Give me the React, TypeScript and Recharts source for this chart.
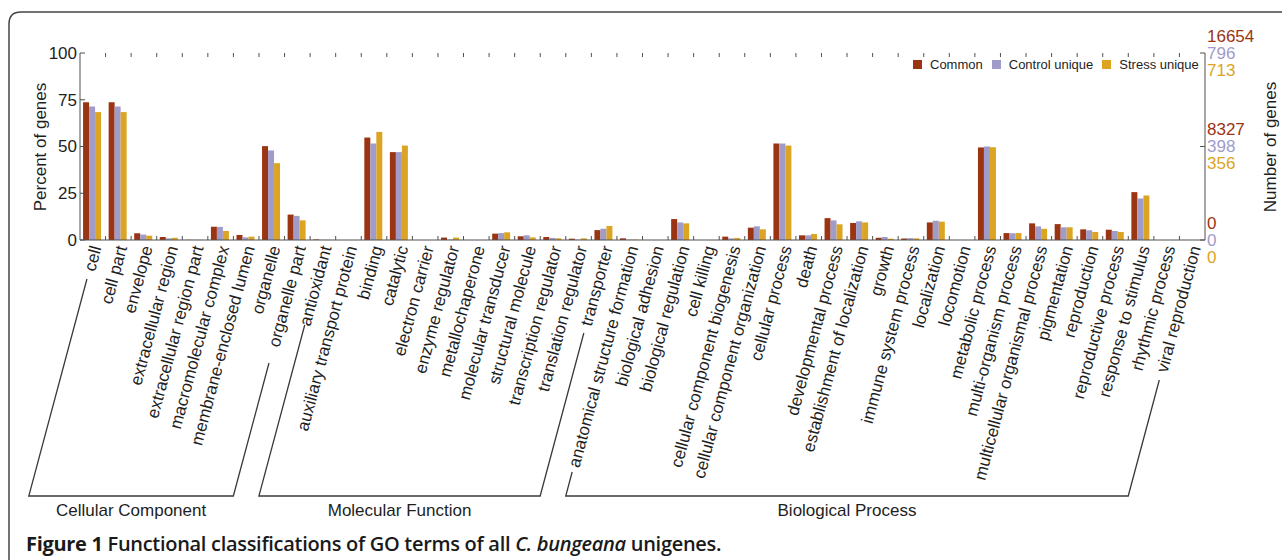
import React from "react";
import { BarChart, Bar, XAxis, YAxis, Legend } from "recharts";

// GO term categories, in plotting order
const categories = [
  "cell", "cell part", "envelope", "extracellular region", "extracellular region part",
  "macromolecular complex", "membrane-enclosed lumen", "organelle", "organelle part",
  "antioxidant", "auxiliary transport protein", "binding", "catalytic", "electron carrier",
  "enzyme regulator", "metallochaperone", "molecular transducer", "structural molecule",
  "transcription regulator", "translation regulator", "transporter",
  "anatomical structure formation", "biological adhesion", "biological regulation",
  "cell killing", "cellular component biogenesis", "cellular component organization",
  "cellular process", "death", "developmental process", "establishment of localization",
  "growth", "immune system process", "localization", "locomotion", "metabolic process",
  "multi-organism process", "multicellular organismal process", "pigmentation",
  "reproduction", "reproductive process", "response to stimulus", "rhythmic process",
  "viral reproduction",
];

// percent of genes per set
const commonPct = [
  73.7, 73.7, 3.6, 1.6, 0.1, 7.1, 2.7, 50.2, 13.6,
  0.3, 0, 54.8, 47.0, 0, 1.3, 0, 3.4, 2.0, 1.6, 0.7, 5.3,
  0.9, 0, 11.2, 0, 1.8, 6.6, 51.6, 2.5, 11.7, 9.1, 1.2, 0.8, 9.4, 0, 49.5,
  3.7, 8.9, 8.5, 5.7, 5.5, 25.6, 0, 0,
];
const controlPct = [
  71.4, 71.4, 2.9, 0.9, 0.1, 7.0, 1.4, 47.9, 12.9,
  0.1, 0, 51.6, 47.0, 0, 0.2, 0, 3.7, 2.5, 1.1, 0.2, 6.0,
  0.2, 0, 9.4, 0, 0.9, 7.3, 51.6, 2.5, 10.5, 10.0, 1.6, 1.0, 10.3, 0, 50.0,
  3.6, 7.3, 6.8, 5.2, 4.8, 22.2, 0, 0,
];
const stressPct = [
  68.4, 68.4, 2.3, 1.2, 0.1, 4.8, 1.8, 41.1, 10.5,
  0.1, 0, 57.8, 50.5, 0, 1.3, 0, 4.1, 1.4, 0.9, 0.9, 7.5,
  0.2, 0, 8.9, 0, 1.1, 5.7, 50.5, 3.2, 8.4, 9.4, 0.7, 0.9, 9.8, 0, 49.6,
  3.7, 6.0, 6.8, 4.3, 4.3, 23.8, 0, 0,
];

const percentTicks = [0, 25, 50, 75, 100];
const countTicks = [0, 50, 100];
const commonCounts = ["0", "8327", "16654"];
const controlCounts = ["0", "398", "796"];
const stressCounts = ["0", "356", "713"];

const groupNames = ["Cellular Component", "Molecular Function", "Biological Process"];
const groupSizes = [9, 12, 23];

const COLORS = { common: "#9b3412", control: "#a09cca", stress: "#dca423" };
const FONT = "'Liberation Sans', Arial, Helvetica, sans-serif";
const INK = "#1e1e1e";
const AXIS = "#505050";

const W = 1282;
const H = 560;
const LEFT = 80;
const RIGHT_W = 77;
const TOP = 53;
const AXIS_H = 320;
const PLOT_BOTTOM = H - AXIS_H;
const PLOT_W = W - LEFT - RIGHT_W;
const STEP = PLOT_W / categories.length;
const ANGLE = 75;
const LABEL_DX = 3;
const LABEL_Y = PLOT_BOTTOM + 6;
const BRACKET_Y = 496;
// where each bracket side stops under its label: [first, last]
const bracketTops = [[279, 363], [325, 333], [472, 380]];

const data = categories.map((name, i) => ({
  name,
  common: commonPct[i],
  control: controlPct[i],
  stress: stressPct[i],
}));

const cot = 1 / Math.tan((ANGLE * Math.PI) / 180);
const centerX = (i: number) => LEFT + STEP * (i + 0.5);
const labelLineX = (i: number, y: number) => centerX(i) + LABEL_DX - (y - LABEL_Y) * cot;

function CategoryTick({ x, payload, index }: any) {
  const edge = x - STEP / 2;
  return (
    <g>
      {index > 0 && (
        <>
          <line x1={edge} x2={edge} y1={PLOT_BOTTOM} y2={PLOT_BOTTOM - 4} stroke={AXIS} />
          <line x1={edge} x2={edge} y1={TOP} y2={TOP + 4} stroke={AXIS} />
        </>
      )}
      <text
        transform={`translate(${x + LABEL_DX},${LABEL_Y}) rotate(-${ANGLE})`}
        textAnchor="end"
        dy="0.35em"
        fontSize={17}
        fontFamily={FONT}
        fill={INK}
      >
        {payload.value}
      </text>
    </g>
  );
}

function PercentTick({ y, payload }: any) {
  return (
    <g>
      <line x1={LEFT} x2={LEFT + 5} y1={y} y2={y} stroke={AXIS} />
      <text x={LEFT - 3} y={y} dy="0.35em" textAnchor="end" fontSize={17} fontFamily={FONT} fill={INK}>
        {payload.value}
      </text>
    </g>
  );
}

function CountTick({ y, payload }: any) {
  const k = countTicks.indexOf(payload.value);
  const xr = W - RIGHT_W;
  const rows: [string, string][] = [
    [commonCounts[k], COLORS.common],
    [controlCounts[k], COLORS.control],
    [stressCounts[k], COLORS.stress],
  ];
  return (
    <g>
      <line x1={xr} x2={xr - 5} y1={y} y2={y} stroke={AXIS} />
      {rows.map(([label, color], r) => (
        <text
          key={r}
          x={xr + 2}
          y={y + (r - 1) * 17}
          dy="0.35em"
          fontSize={17}
          fontFamily={FONT}
          fill={color}
        >
          {label}
        </text>
      ))}
    </g>
  );
}

function LegendContent({ payload }: any) {
  return (
    <div style={{ display: "flex", alignItems: "center", fontFamily: FONT, fontSize: 13, color: INK, lineHeight: "15px" }}>
      {(payload || []).map((p: any) => (
        <span key={p.value} style={{ display: "flex", alignItems: "center", marginRight: 9 }}>
          <span style={{ width: 9, height: 9, background: p.color, marginRight: 8 }} />
          {p.value}
        </span>
      ))}
    </div>
  );
}

function Brackets() {
  let start = 0;
  return (
    <g>
      {groupNames.map((name, g) => {
        const first = start;
        const last = start + groupSizes[g] - 1;
        start += groupSizes[g];
        const [topA, topB] = bracketTops[g];
        const x0 = labelLineX(first, BRACKET_Y);
        const x1 = labelLineX(last, BRACKET_Y);
        const d = `M${labelLineX(first, topA)},${topA} L${x0},${BRACKET_Y} L${x1},${BRACKET_Y} L${labelLineX(last, topB)},${topB}`;
        return (
          <g key={name}>
            <path d={d} fill="none" stroke="#3a3a3a" strokeWidth={1.3} />
            <text x={(x0 + x1) / 2} y={BRACKET_Y + 14} dy="0.35em" textAnchor="middle" fontSize={17} fontFamily={FONT} fill={INK}>
              {name}
            </text>
          </g>
        );
      })}
    </g>
  );
}

export default function App() {
  return (
    <div style={{ position: "absolute", left: 0, top: 0, width: W, height: H, background: "#fff" }}>
      <BarChart
        width={W}
        height={H}
        data={data}
        margin={{ top: TOP, right: 0, bottom: 0, left: 0 }}
        barCategoryGap="12%"
        barGap={0}
      >
        <XAxis
          dataKey="name"
          height={AXIS_H}
          interval={0}
          tickLine={false}
          axisLine={{ stroke: AXIS }}
          tick={<CategoryTick />}
        />
        <XAxis xAxisId="top" dataKey="name" orientation="top" height={0} tick={false} tickLine={false} axisLine={{ stroke: AXIS }} />
        <YAxis
          yAxisId="left"
          width={LEFT}
          type="number"
          domain={[0, 100]}
          ticks={percentTicks}
          allowDataOverflow
          tickLine={false}
          axisLine={{ stroke: AXIS }}
          tick={<PercentTick />}
        />
        {/* same 0-100 scale, labelled with gene counts per set */}
        <YAxis
          yAxisId="right"
          orientation="right"
          width={RIGHT_W}
          type="number"
          domain={[0, 100]}
          ticks={countTicks}
          allowDataOverflow
          tickLine={false}
          axisLine={{ stroke: AXIS }}
          tick={<CountTick />}
        />
        <Legend
          layout="horizontal"
          verticalAlign="middle"
          align="center"
          content={<LegendContent />}
          wrapperStyle={{ top: 57, left: 913, width: 320, height: 15 }}
        />
        <Bar yAxisId="left" dataKey="common" name="Common" fill={COLORS.common} isAnimationActive={false} />
        <Bar yAxisId="left" dataKey="control" name="Control unique" fill={COLORS.control} isAnimationActive={false} />
        <Bar yAxisId="right" dataKey="stress" name="Stress unique" fill={COLORS.stress} isAnimationActive={false} />
      </BarChart>
      <svg width={W} height={H} style={{ position: "absolute", left: 0, top: 0, pointerEvents: "none" }}>
        <path d={`M9,${H + 10} L9,24 Q9,12 21,12 L${W + 10},12`} fill="none" stroke="#444" strokeWidth={1.5} />
        <text transform="translate(40,147) rotate(-90)" textAnchor="middle" dy="0.35em" fontSize={17} fontFamily={FONT} fill={INK}>
          Percent of genes
        </text>
        <text transform="translate(1270,147) rotate(-90)" textAnchor="middle" dy="0.35em" fontSize={17} fontFamily={FONT} fill={INK}>
          Number of genes
        </text>
        <Brackets />
        <text x={26} y={551} fontSize={20} fontFamily="'Open Sans', sans-serif" fontWeight={600} fill="#1a1a1a" letterSpacing={-0.3}>
          <tspan fontWeight={700}>Figure 1</tspan>{" Functional classifications of GO terms of all "}
          <tspan fontStyle="italic">C. bungeana</tspan>{" unigenes."}
        </text>
      </svg>
    </div>
  );
}
